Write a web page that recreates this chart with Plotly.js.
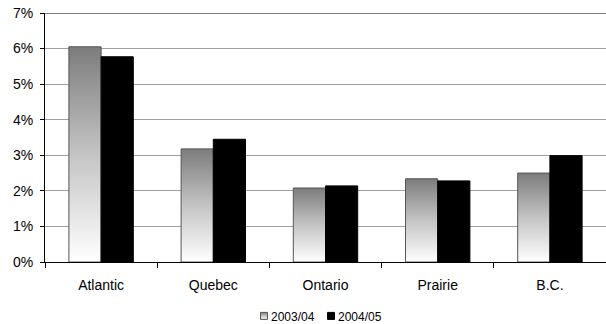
<!DOCTYPE html>
<html>
<head>
<meta charset="utf-8">
<script src="https://cdn.plot.ly/plotly-3.0.1.min.js"></script>
<style>
html,body{margin:0;padding:0;background:#fff;}
#chart{width:606px;height:324px;}
</style>
</head>
<body>
<div id="chart"></div>
<script>
const categories = ["Atlantic", "Quebec", "Ontario", "Prairie", "B.C."];
const series2003 = [6.05, 3.18, 2.08, 2.34, 2.50];
const series2004 = [5.77, 3.45, 2.14, 2.28, 2.99];
const seriesNames = ["2003/04", "2004/05"];
const yTickVals = [0, 1, 2, 3, 4, 5, 6, 7];
const yTickText = ["0%", "1%", "2%", "3%", "4%", "5%", "6%", "7%"];

const font = "Liberation Sans, Arial, sans-serif";

const traces = [
  {
    type: "bar", name: seriesNames[0], x: categories, y: series2003,
    marker: {color: "#c0c0c0", line: {color: "#555555", width: 1}},
    hoverinfo: "skip"
  },
  {
    type: "bar", name: seriesNames[1], x: categories, y: series2004,
    marker: {color: "#000000", line: {color: "#000000", width: 1}},
    hoverinfo: "skip"
  }
];

const layout = {
  width: 606, height: 324,
  margin: {l: 45, r: 0, t: 13, b: 62},
  paper_bgcolor: "#ffffff", plot_bgcolor: "#ffffff",
  barmode: "group", bargap: 0.426, bargroupgap: 0,
  font: {family: font, color: "#000000", size: 14},
  xaxis: {
    type: "category",
    showline: true, linecolor: "#000000", linewidth: 1,
    ticks: "outside", tickson: "boundaries", ticklen: 5, tickcolor: "#000000",
    showgrid: false, zeroline: false,
    tickfont: {family: font, size: 14, color: "#000000"},
    ticklabelstandoff: 10
  },
  yaxis: {
    range: [0, 7], tickvals: yTickVals, ticktext: yTickText,
    showline: true, linecolor: "#000000", linewidth: 1,
    ticks: "outside", ticklen: 4, tickcolor: "#000000",
    showgrid: true, gridcolor: "#a0a0a0", gridwidth: 1,
    zeroline: false,
    tickfont: {family: font, size: 14, color: "#000000"},
    ticklabelstandoff: 4
  },
  shapes: [
    {type: "line", xref: "paper", yref: "y", x0: 0, x1: 1, y0: 7, y1: 7,
     line: {color: "#000000", width: 1}}
  ],
  showlegend: true,
  legend: {
    orientation: "h", xref: "paper", x: 0.5, xanchor: "center",
    yref: "container", y: 0.025, yanchor: "middle",
    font: {family: font, size: 12, color: "#000000"},
    itemwidth: 30, tracegroupgap: 0, bgcolor: "rgba(0,0,0,0)"
  }
};

function prependTranslate(el, dx, dy) {
  const old = el.getAttribute("transform") || "";
  el.setAttribute("transform", "translate(" + dx + "," + dy + ") " + old);
}

Plotly.newPlot("chart", traces, layout, {staticPlot: true, displayModeBar: false}).then(function (gd) {
  const svg = gd.querySelector(".main-svg");
  const ns = "http://www.w3.org/2000/svg";
  let defs = svg.querySelector("defs");
  if (!defs) { defs = document.createElementNS(ns, "defs"); svg.insertBefore(defs, svg.firstChild); }
  const grad = document.createElementNS(ns, "linearGradient");
  grad.setAttribute("id", "barGrad");
  grad.setAttribute("x1", "0"); grad.setAttribute("y1", "0");
  grad.setAttribute("x2", "0"); grad.setAttribute("y2", "1");
  [["0", "#7c7c7c"], ["0.5", "#c4c4c4"], ["1", "#ffffff"]].forEach(function (s) {
    const st = document.createElementNS(ns, "stop");
    st.setAttribute("offset", s[0]); st.setAttribute("stop-color", s[1]);
    grad.appendChild(st);
  });
  defs.appendChild(grad);
  const barTraces = gd.querySelectorAll(".barlayer .trace");
  if (barTraces[0]) {
    barTraces[0].querySelectorAll("path").forEach(function (p) { p.style.fill = "url(#barGrad)"; });
  }
  // tighten legend: symbol centres and text starts as in the reference
  const symCentres = [264, 331];
  const svgLeft = svg.getBoundingClientRect().left;
  const legendTraces = gd.querySelectorAll(".legend .traces");
  legendTraces.forEach(function (t, i) {
    const paths = t.querySelectorAll(".legendpoints path");
    paths.forEach(function (p) {
      p.setAttribute("d", "M3.5,3.5H-3.5V-3.5H3.5Z");
      if (i === 0) { p.style.fill = "url(#barGrad)"; p.style.stroke = "#555555"; }
    });
    if (paths[0] && symCentres[i] !== undefined) {
      const r = paths[0].getBoundingClientRect();
      const cx = (r.left + r.right) / 2 - svgLeft;
      prependTranslate(paths[0], symCentres[i] - cx, 0);
    }
    const txt = t.querySelector("text.legendtext");
    if (txt && symCentres[i] !== undefined) {
      const r = txt.getBoundingClientRect();
      const left = r.left - svgLeft;
      prependTranslate(txt, symCentres[i] + 7 - left, 0);
    }
  });
});
</script>
</body>
</html>
